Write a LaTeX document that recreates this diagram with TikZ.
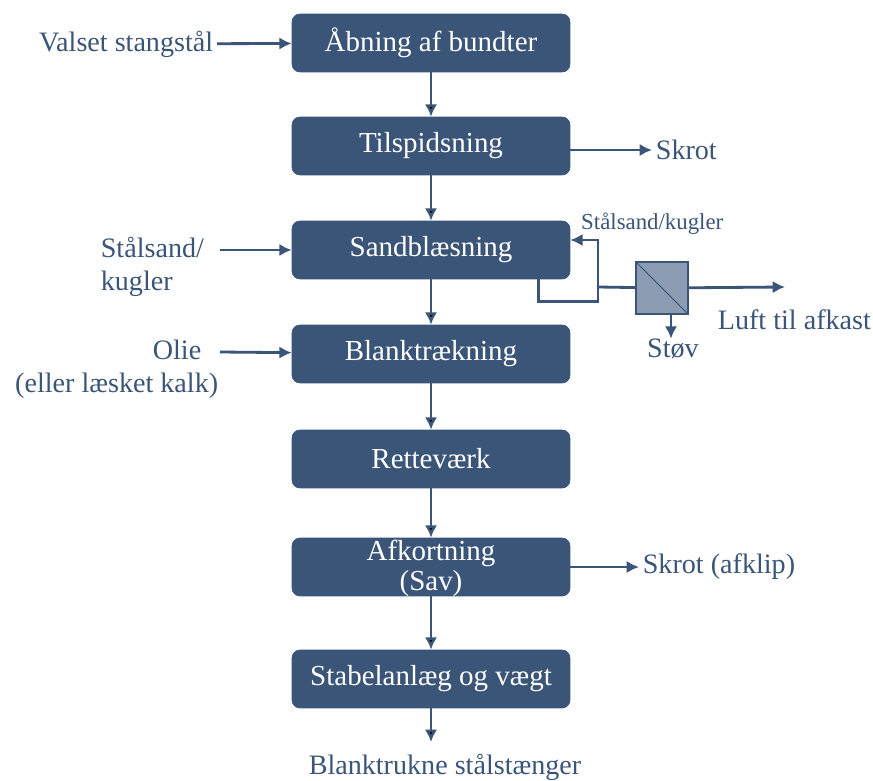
\documentclass[tikz,border=0pt]{standalone}
\usepackage{fontspec}
\setmainfont{Liberation Serif}
\usetikzlibrary{positioning,arrows.meta}
\definecolor{procblue}{RGB}{58,85,120}
\definecolor{filtgrey}{RGB}{139,156,179}
\tikzset{P node/.style={rectangle,rounded corners=0.16cm,fill=procblue,draw=procblue,text=white,minimum width=5.56cm,minimum height=1.16cm,inner sep=0pt,font=\fontsize{16.5}{19}\selectfont,align=center},
	T node/.style={text=procblue,inner sep=2pt,font=\fontsize{16}{19}\selectfont},
	flow/.style={draw=procblue,line width=1.6pt,-{Latex[length=7pt,width=7pt]}},
	pipe/.style={draw=procblue,line width=1.6pt},}

\begin{document}
\begin{tikzpicture}[x=0.02cm,y=-0.02cm]
			\useasboundingbox (0,0) rectangle (873,781);

			\node[P node] (open) at (431,43) {Åbning af bundter};
			\node[P node] (taper) at (431,146) {Tilspidsning};
			\node[P node] (sand) at (431,250) {Sandblæsning};
			\node[P node] (draw) at (431,354) {Blanktrækning};
			\node[P node] (straight) at (431,459) {Retteværk};
			\node[P node] (cut) at (431,567) {};
			\node[font=\fontsize{16.5}{19}\selectfont,text=white] (cuttxt) at (431,553) {Afkortning};
			\node[font=\fontsize{16.5}{19}\selectfont,text=white] (savtxt) at (431,584) {(Sav)};
			\node[P node] (stack) at (431,679) {Stabelanlæg og vægt};

			\node[T node,anchor=east] (valset) at (217,44) {Valset stangstål};
			\node[T node,anchor=west] (skrot) at (652,150) {Skrot};
			\node[T node,anchor=north west,align=left] (shot) at (97,233) {Stålsand/\\kugler};
			\node[T node,anchor=north east,align=right] (olie) at (222,336) {Olie\hspace*{0.6em}\\(eller læsket kalk)};
			\node[T node,anchor=west] (afklip) at (639,567) {Skrot (afklip)};
			\node[T node] (product) at (445,767) {Blanktrukne stålstænger};
			\coordinate (out) at (431,742);

			% cyclone / filter
			\node[rectangle,fill=filtgrey,draw=procblue,line width=0.8pt,minimum size=1.04cm,inner sep=0pt] (filter) at (662,288) {};
			\draw[procblue,line width=0.6pt] (filter.north west) -- (filter.south east);
			\node[text=procblue,font=\fontsize{13}{15}\selectfont,anchor=west] (recyc) at (575,224) {Stålsand/kugler};
			\node[T node] (dust) at (673,349) {Støv};
			\node[T node,anchor=west] (air) at (714,320) {Luft til afkast};
			\coordinate (junc) at (598,287);
			\coordinate (airend) at (785,287);

			\path[flow]
				(open) edge (taper)
				(taper) edge (sand)
				(sand) edge (draw)
				(draw) edge (straight)
				(straight) edge (cut)
				(cut) edge (stack)
				(stack) edge (out);
			\draw[flow] (valset) -- (open);
			\draw[flow] (taper.east |- skrot) -- (skrot);
			\draw[flow] (220,250) -- (sand);
			\draw[flow] (220,352) -- (draw);
			\draw[flow] (cut) -- (afklip);

			\draw[pipe] ([xshift=-0.64cm]sand.south east) -- ++(0,22) -| (junc);
			\draw[flow] (junc) |- ([yshift=0.2cm]sand.east);
			\draw[pipe] (junc) -- (filter);
			\draw[flow] (filter) -- (airend);
			\draw[flow] ([xshift=0.18cm]filter.south) -- ++(0,24);
		\end{tikzpicture}
\end{document}
